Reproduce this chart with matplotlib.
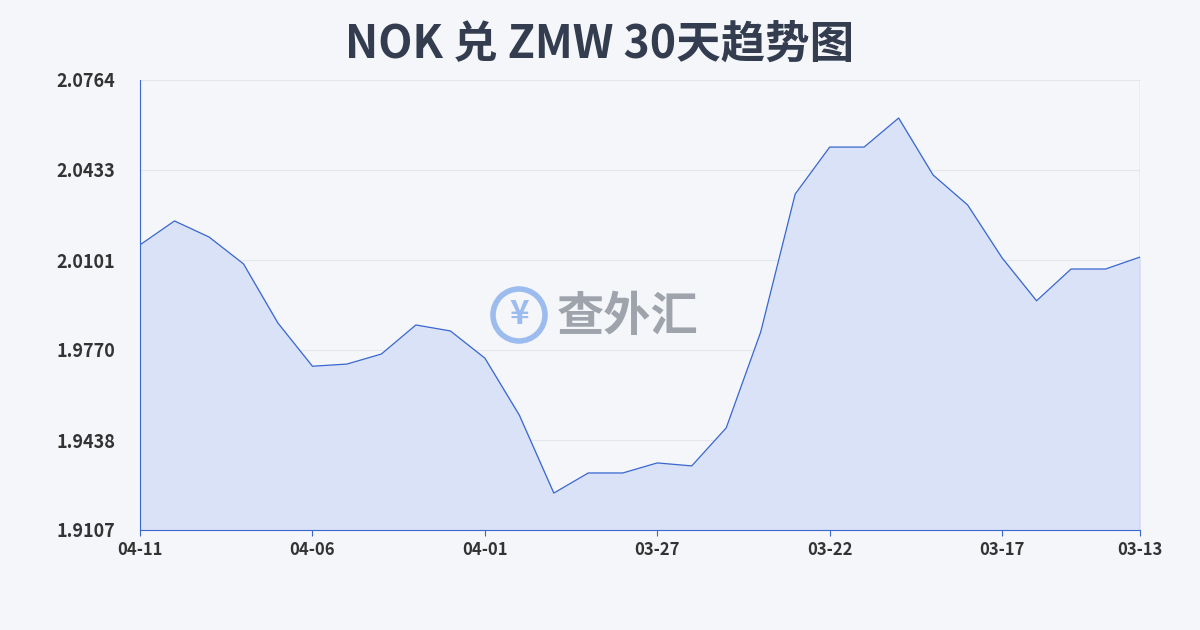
import matplotlib
matplotlib.use("Agg")
import matplotlib.pyplot as plt
import numpy as np

plt.rcParams['font.family'] = ['Noto Sans CJK SC', 'DejaVu Sans']

dates = ["04-11","04-10","04-09","04-08","04-07","04-06","04-05","04-04","04-03","04-02",
         "04-01","03-31","03-30","03-29","03-28","03-27","03-26","03-25","03-24","03-23",
         "03-22","03-21","03-20","03-19","03-18","03-17","03-16","03-15","03-14","03-13"]
values = [2.0157,2.0245,2.0186,2.0087,1.9869,1.9710,1.9718,1.9755,1.9862,1.9840,
          1.9740,1.9530,1.9243,1.9317,1.9317,1.9354,1.9343,1.9483,1.9836,2.0344,
          2.0517,2.0517,2.0624,2.0414,2.0304,2.0109,1.9951,2.0068,2.0068,2.0112]
yticks = [1.9107,1.9438,1.9770,2.0101,2.0433,2.0764]
xtick_idx = [0,5,10,15,20,25,29]

fig = plt.figure(figsize=(12,6.3), dpi=100)
fig.patch.set_facecolor('#f4f6f9')
ax = fig.add_axes([140/1200, 100/630, 1000/1200, 450/630])
ax.set_facecolor('#f4f6f9')
x = np.arange(len(values))
ax.fill_between(x, values, yticks[0], color='#d9e2f6', alpha=1)
ax.plot(x, values, color='#3a67d0', lw=0.9)
ax.set_xlim(0, len(values)-1)
ax.set_ylim(yticks[0], yticks[-1])
ax.set_yticks(yticks)
ax.set_yticklabels([f"{v:.4f}" for v in yticks], fontsize=13, fontweight='bold', color='#333')
ax.set_xticks(xtick_idx)
ax.set_xticklabels([dates[i] for i in xtick_idx], fontsize=12, fontweight='bold', color='#333')
ax.grid(axis='y', color='#e3e6ea', lw=0.8)
ax.set_axisbelow(True)
for s in ['top','right']:
    ax.spines[s].set_visible(False)
ax.spines['left'].set_color('#3a67d0'); ax.spines['left'].set_linewidth(0.8)
ax.spines['bottom'].set_color('#3a67d0'); ax.spines['bottom'].set_linewidth(0.8)
ax.axvline(len(values)-1, color='#3a67d0', lw=0.8)
ax.tick_params(axis='y', length=0, pad=18)
ax.tick_params(axis='x', length=4, color='#3a67d0', pad=4)
fig.text(0.5, 585/630, "NOK 兑 ZMW 30天趋势图", ha='center', va='center', fontsize=32, fontweight='bold', color='#333d4f')
cx, cy = 519/1200, 315/630
fig.text(cx, cy, "¥", ha='center', va='center', fontsize=24, color='#9cbcef', fontweight='bold')
circ = matplotlib.patches.Ellipse((cx, cy), 52/1200, 52/630, transform=fig.transFigure, fill=False, ec='#9cbcef', lw=4)
fig.patches.append(circ)
fig.text(557/1200, 313/630, "查外汇", ha='left', va='center', fontsize=34, color='#8a8f99', fontweight='bold', alpha=0.8)
fig.savefig("out.png", dpi=100, facecolor=fig.get_facecolor())
